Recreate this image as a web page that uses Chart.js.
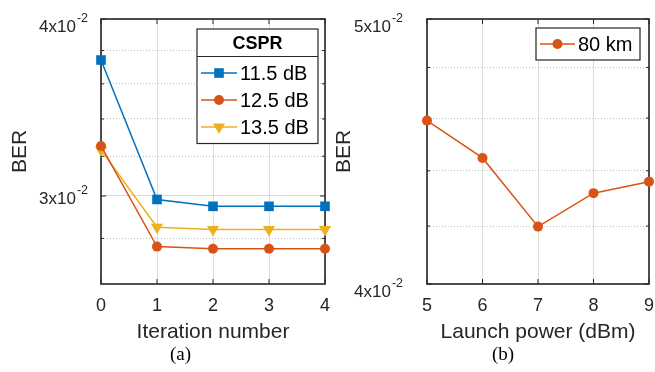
<!DOCTYPE html>
<html>
<head>
<meta charset="utf-8">
<script src="https://cdn.jsdelivr.net/npm/chart.js@4"></script>
<style>
  body { margin: 0; background: #fff; width: 655px; height: 372px; position: relative; overflow: hidden; }
  .panel { position: absolute; top: 0; height: 372px; }
  .cap { position: absolute; top: 343px; font: 19px "Liberation Serif", "Times New Roman", serif; color: #000; }
</style>
</head>
<body>
<div class="panel" style="left:0;width:332px"><canvas id="chartA"></canvas></div>
<div class="panel" style="left:330px;width:325px"><canvas id="chartB"></canvas></div>
<div class="cap" style="left:170px">(a)</div>
<div class="cap" style="left:492px">(b)</div>
<script>
// panel (a): BER vs iteration number, for three CSPR values
const iterations = [0, 1, 2, 3, 4];
const csprLabels = ['11.5 dB', '12.5 dB', '13.5 dB'];
const ber115 = [0.03742, 0.02983, 0.0295, 0.0295, 0.0295];
const ber125 = [0.03254, 0.02763, 0.02753, 0.02753, 0.02753];
const ber135 = [0.03233, 0.02851, 0.02841, 0.02841, 0.02841];
const yTicksA = [0.028, 0.03, 0.032, 0.034, 0.036, 0.038, 0.04];
const yLabelsA = [0.03, 0.04];

// panel (b): BER vs launch power at 80 km
const launchPower = [5, 6, 7, 8, 9];
const ber80km = [0.0459, 0.04448, 0.04198, 0.04318, 0.0436];
const yTicksB = [0.04, 0.042, 0.044, 0.046, 0.048, 0.05];
const yLabelsB = [0.04, 0.05];

const BLUE = '#0072BD', ORANGE = '#D95319', YELLOW = '#EDB120';
const INK = '#262626';
const SANS = '"Liberation Sans", Arial, sans-serif';

Chart.defaults.font.family = SANS;
Chart.defaults.color = INK;

// matlab-ish box, inward ticks and 'Nx10^e' labels
const matlabAxes = {
  id: 'matlabAxes',
  beforeDatasetsDraw(chart, args, o) {
    const { ctx, chartArea: a, scales: { x, y } } = chart;
    ctx.save();
    ctx.strokeStyle = INK;
    ctx.lineWidth = 1;
    ctx.beginPath();
    x.ticks.forEach(t => {
      const px = x.getPixelForValue(t.value);
      ctx.moveTo(px, a.bottom); ctx.lineTo(px, a.bottom - 5);
      ctx.moveTo(px, a.top); ctx.lineTo(px, a.top + 5);
    });
    y.ticks.forEach(t => {
      const py = y.getPixelForValue(t.value);
      const len = o.labels.includes(t.value) ? 5 : 3;
      ctx.moveTo(a.left, py); ctx.lineTo(a.left + len, py);
      ctx.moveTo(a.right, py); ctx.lineTo(a.right - len, py);
    });
    ctx.stroke();
    ctx.lineWidth = 1.6;
    ctx.strokeRect(a.left, a.top, a.right - a.left, a.bottom - a.top);
    ctx.restore();
  },
  afterDraw(chart, args, o) {
    const { ctx, chartArea: a, scales: { y } } = chart;
    ctx.save();
    ctx.fillStyle = INK;
    ctx.textAlign = 'left';
    ctx.textBaseline = 'middle';
    o.labels.forEach(v => {
      const py = y.getPixelForValue(v);
      const edge = Math.abs(py - a.top) < 2 || Math.abs(py - a.bottom) < 2;
      const cy = py + (edge ? 8 : 3);
      const exp = Math.floor(Math.log10(v) + 1e-9);
      const mant = Math.round(v / Math.pow(10, exp));
      const base = mant + 'x10';
      const sup = String(exp);
      ctx.font = '17px ' + SANS;
      const wb = ctx.measureText(base).width;
      ctx.font = '12.5px ' + SANS;
      const ws = ctx.measureText(sup).width + 1;
      const right = a.left - o.gap;
      ctx.font = '17px ' + SANS;
      ctx.fillText(base, right - ws - wb, cy);
      ctx.font = '12.5px ' + SANS;
      ctx.fillText(sup, right - ws + 1, cy - 8);
    });
    ctx.restore();
  }
};

// boxed legend drawn inside the axes, top right
const boxLegend = {
  id: 'boxLegend',
  afterDraw(chart, args, o) {
    const { ctx, chartArea: a } = chart;
    const sets = chart.data.datasets;
    const x0 = a.right - o.right - o.width;
    const y0 = a.top + o.top;
    const titleH = o.title ? o.titleHeight : 0;
    const h = titleH + sets.length * o.rowHeight + 2 * o.pad;
    ctx.save();
    ctx.fillStyle = '#fff';
    ctx.fillRect(x0, y0, o.width, h);
    ctx.strokeStyle = INK;
    ctx.lineWidth = 1.2;
    ctx.strokeRect(x0, y0, o.width, h);
    if (o.title) {
      ctx.beginPath();
      ctx.moveTo(x0, y0 + titleH); ctx.lineTo(x0 + o.width, y0 + titleH);
      ctx.stroke();
      ctx.fillStyle = '#000';
      ctx.font = 'bold 18px ' + SANS;
      ctx.textAlign = 'center';
      ctx.textBaseline = 'middle';
      ctx.fillText(o.title, x0 + o.width / 2, y0 + titleH / 2 + 1);
    }
    sets.forEach((ds, i) => {
      const cy = y0 + titleH + o.pad + o.rowHeight * (i + 0.5);
      const lx = x0 + 4;
      ctx.strokeStyle = ds.borderColor;
      ctx.lineWidth = ds.borderWidth;
      ctx.beginPath();
      ctx.moveTo(lx, cy); ctx.lineTo(lx + o.sample, cy);
      ctx.stroke();
      ctx.fillStyle = ds.backgroundColor;
      Chart.helpers.drawPoint(ctx, {
        pointStyle: ds.pointStyle, radius: ds.pointRadius,
        rotation: ds.pointRotation || 0, borderWidth: 0
      }, lx + o.sample / 2, cy);
      ctx.fillStyle = '#000';
      ctx.font = '20px ' + SANS;
      ctx.textAlign = 'left';
      ctx.textBaseline = 'middle';
      ctx.fillText(ds.label, x0 + o.textOffset, cy + 1);
    });
    ctx.restore();
  }
};

function series(label, data, color, style, radius, rotation) {
  return {
    label, data,
    borderColor: color, backgroundColor: color,
    borderWidth: 1.5,
    pointStyle: style, pointRadius: radius, pointHoverRadius: radius,
    pointRotation: rotation || 0, pointBorderWidth: 0,
    tension: 0, clip: false
  };
}

function axesOptions(p) {
  return {
    responsive: true,
    maintainAspectRatio: false,
    animation: false,
    layout: { padding: { top: 19, right: p.padRight, left: 0, bottom: 0 } },
    scales: {
      x: {
        type: 'linear', min: p.xMin, max: p.xMax,
        afterBuildTicks: s => { s.ticks = p.xTicks.map(v => ({ value: v })); },
        afterFit: s => { s.height = 88; s.paddingLeft = 0; s.paddingRight = 0; },
        ticks: { font: { size: 18 }, padding: 11, color: INK },
        grid: { color: '#dcdcdc', lineWidth: 1, drawTicks: false },
        border: { display: false },
        title: { display: true, text: p.xTitle, font: { size: 21 }, color: INK, padding: { top: 0, bottom: 27 } }
      },
      y: {
        type: 'logarithmic', min: p.yMin, max: p.yMax,
        afterBuildTicks: s => { s.ticks = p.yTicks.map(v => ({ value: v })); },
        afterFit: s => { s.width = p.yWidth; s.paddingTop = 0; s.paddingBottom = 0; },
        ticks: { display: false },
        grid: {
          drawTicks: false, lineWidth: 1,
          color: c => (p.yLabels.includes(c.tick && c.tick.value) ? '#dcdcdc' : '#bdbdbd')
        },
        border: {
          display: false,
          dash: c => (p.yLabels.includes(c.tick && c.tick.value) ? [] : [1, 2])
        },
        title: { display: true, text: 'BER', font: { size: 21 }, color: INK, padding: { top: p.yTitlePad, bottom: 0 } }
      }
    },
    plugins: {
      legend: { display: false },
      tooltip: { enabled: false },
      matlabAxes: { labels: p.yLabels, gap: p.labelGap },
      boxLegend: p.legend
    }
  };
}

new Chart(document.getElementById('chartA'), {
  type: 'line',
  data: {
    labels: iterations,
    datasets: [
      series(csprLabels[0], iterations.map((x, i) => ({ x, y: ber115[i] })), BLUE, 'rect', 6.8),
      series(csprLabels[1], iterations.map((x, i) => ({ x, y: ber125[i] })), ORANGE, 'circle', 5),
      series(csprLabels[2], iterations.map((x, i) => ({ x, y: ber135[i] })), YELLOW, 'triangle', 7, 180)
    ]
  },
  options: axesOptions({
    // point overflow forces ~7px right padding here
    padRight: 7, yWidth: 101, yTitlePad: 8, labelGap: 13,
    xMin: 0, xMax: 4, xTicks: iterations, xTitle: 'Iteration number',
    yMin: 0.026, yMax: 0.04, yTicks: yTicksA, yLabels: yLabelsA,
    legend: { title: 'CSPR', width: 121, right: 7, top: 10, titleHeight: 27.5, rowHeight: 27, pad: 3, sample: 36, textOffset: 43 }
  }),
  plugins: [matlabAxes, boxLegend]
});

new Chart(document.getElementById('chartB'), {
  type: 'line',
  data: {
    labels: launchPower,
    datasets: [
      series('80 km', launchPower.map((x, i) => ({ x, y: ber80km[i] })), ORANGE, 'circle', 5)
    ]
  },
  options: axesOptions({
    padRight: 6, yWidth: 97, yTitlePad: 2, labelGap: 24,
    xMin: 5, xMax: 9, xTicks: launchPower, xTitle: 'Launch power (dBm)',
    yMin: 0.04, yMax: 0.05, yTicks: yTicksB, yLabels: yLabelsB,
    legend: { title: '', width: 104, right: 9, top: 9, titleHeight: 0, rowHeight: 27, pad: 2.5, sample: 35, textOffset: 42 }
  }),
  plugins: [matlabAxes, boxLegend]
});
</script>
</body>
</html>
